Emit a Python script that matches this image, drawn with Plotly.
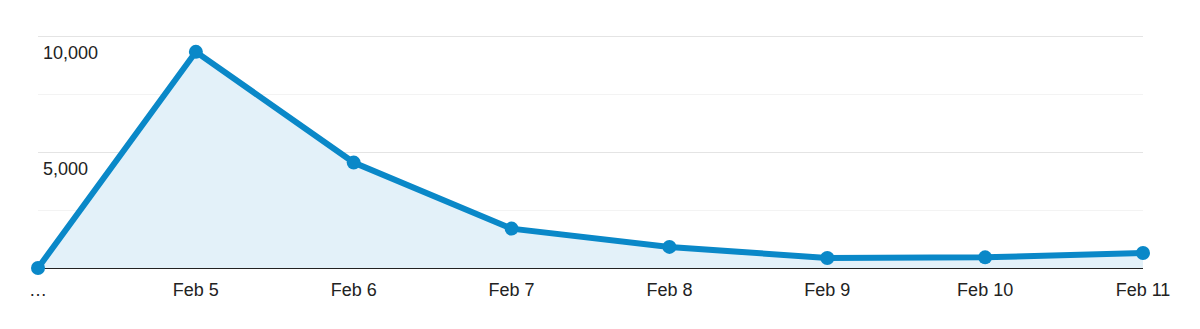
import plotly.graph_objects as go

labels = ["…", "Feb 5", "Feb 6", "Feb 7", "Feb 8", "Feb 9", "Feb 10", "Feb 11"]
values = [0, 9330, 4550, 1700, 910, 430, 460, 650]
y_ticks = [5000, 10000]
x_idx = list(range(len(labels)))

FONT = dict(family="Liberation Sans, Arial, sans-serif", size=18, color="#222222")

fig = go.Figure()
fig.add_trace(go.Scatter(
    x=x_idx, y=values, mode="lines+markers",
    line=dict(color="#0a88c8", width=6),
    marker=dict(color="#0a88c8", size=14),
    fill="tozeroy", fillcolor="#e3f1f9",
    cliponaxis=False, hoverinfo="skip",
))

for v in y_ticks:
    fig.add_annotation(
        x=0, xref="paper", y=v, yref="y", text=f"{v:,}",
        showarrow=False, xanchor="left", yanchor="top",
        xshift=3, yshift=-5, font=FONT,
    )

fig.update_layout(
    width=1200, height=329,
    margin=dict(l=38, r=57, t=34, b=61),
    paper_bgcolor="white", plot_bgcolor="white",
    showlegend=False,
    font=FONT,
    xaxis=dict(
        range=[0, len(labels) - 1], tickvals=x_idx, ticktext=labels,
        showgrid=False, zeroline=False, showline=False, ticks="",
        ticklabelstandoff=9,
    ),
    yaxis=dict(
        range=[0, 10100], tickvals=y_ticks, showticklabels=False,
        showgrid=True, gridcolor="#e4e4e4", gridwidth=1,
        minor=dict(dtick=2500, showgrid=True, gridcolor="#f3f3f3", gridwidth=1, tick0=0),
        zeroline=True, zerolinecolor="#222222", zerolinewidth=2,
        showline=False, ticks="",
    ),
)

fig.write_html("out.html")
